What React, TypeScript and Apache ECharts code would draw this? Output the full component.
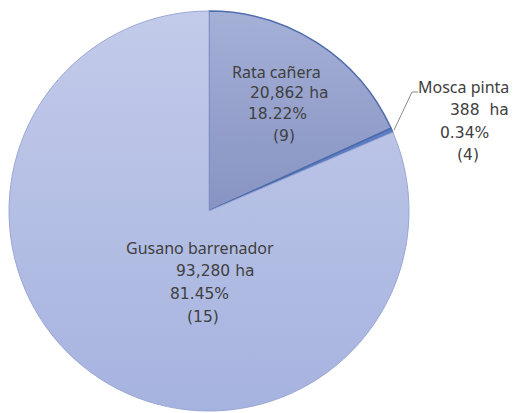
import React, { useEffect, useRef } from "react";
import * as echarts from "echarts";

const categories = ["Rata cañera", "Mosca pinta", "Gusano barrenador"];
const hectares = [20862, 388, 93280];
const hectareLabels = ["20,862 ha", "388  ha", "93,280 ha"];
const percentLabels = ["18.22%", "0.34%", "81.45%"];
const countLabels = ["(9)", "(4)", "(15)"];

export default function App() {
  const ref = useRef<HTMLDivElement>(null);
  useEffect(() => {
    if (!ref.current) return;
    const chart = echarts.init(ref.current, null, { renderer: "svg" });
    const nameFont = "16px 'Noto Sans', 'Open Sans', sans-serif";
    const numFont = "15.5px 'DejaVu Sans', 'Noto Sans', sans-serif";
    const textColor = "#404040";
    const labelPos = [
      [[232, 72], [250, 93], [248, 114], [273, 136]],
      [[418, 87], [450, 110], [440, 133], [457, 155]],
      [[126, 248], [176, 271], [170, 294], [187, 317]],
    ];
    const graphics: any[] = [];
    categories.forEach((c, i) => {
      const lines = [c, hectareLabels[i], percentLabels[i], countLabels[i]];
      lines.forEach((t, j) => {
        graphics.push({
          type: "text",
          x: labelPos[i][j][0],
          y: labelPos[i][j][1],
          style: {
            text: t,
            fill: textColor,
            font: j === 0 ? nameFont : numFont,
            verticalAlign: "middle",
          },
          z: 100,
        });
      });
    });
    graphics.push({
      type: "polyline",
      shape: { points: [[394, 130], [412, 92], [418, 92]] },
      style: { stroke: "#8a8a8a", lineWidth: 1, fill: "none" },
      z: 99,
    });
    const colors = [
      new echarts.graphic.LinearGradient(0, 0, 0, 1, [
        { offset: 0, color: "#a4b0d6" },
        { offset: 1, color: "#8793c2" },
      ]),
      "#5b7ec6",
      new echarts.graphic.LinearGradient(0, 0, 0, 1, [
        { offset: 0, color: "#c3cbea" },
        { offset: 1, color: "#a6b3df" },
      ]),
    ];
    const borders = ["#4e6cab", "#4e6cab", "#9aa7d6"];
    chart.setOption({
      animation: false,
      graphic: graphics,
      series: [
        {
          type: "pie",
          center: [209, 211],
          radius: 200,
          startAngle: 90,
          clockwise: true,
          label: { show: false },
          labelLine: { show: false },
          emphasis: { disabled: true },
          data: categories.map((c, i) => ({
            name: c,
            value: hectares[i],
            itemStyle: {
              color: colors[i],
              borderColor: borders[i],
              borderWidth: i === 2 ? 1 : 1.5,
            },
          })),
          z: 1,
        },
      ],
    });
    return () => chart.dispose();
  }, []);
  return <div ref={ref} style={{ width: 518, height: 413, position: "absolute", left: 0, top: 0 }} />;
}
